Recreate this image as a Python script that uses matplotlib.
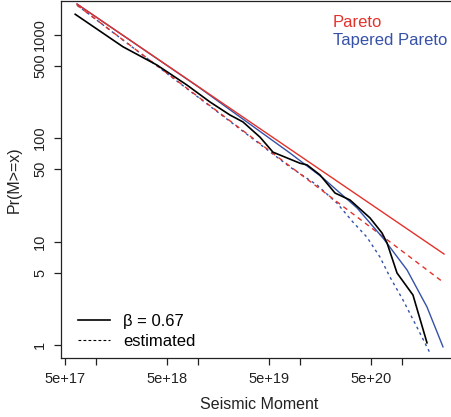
import numpy as np
import matplotlib
matplotlib.use("Agg")
import matplotlib.pyplot as plt
from matplotlib.ticker import FixedLocator, FixedFormatter, NullLocator

plt.rcParams['font.family'] = ['Liberation Sans', 'DejaVu Sans']

RED  = "#e3322b"
BLUE = "#3551a8"

# empirical survival counts (black)
obs_m = [6.3e17, 1.85e18, 3.99e18, 7.85e18, 1.32e19, 2.07e19, 2.78e19, 4.08e19,
         5.47e19, 1.01e20, 1.18e20, 1.58e20, 2.22e20, 3.11e20, 4.89e20, 6.41e20,
         7.18e20, 9.0e20, 1.29e21, 1.77e21]
obs_n = [1570, 762, 507, 325, 223, 167, 143, 102,
         73, 57, 55, 44, 29.4, 25.2, 16.9, 12.1,
         9.7, 4.96, 3.04, 1.05]

# Pareto, beta = 0.67 and estimated
par_m     = [6.56e17, 2.60e21]
par_n     = [1972, 7.57]
par_est_m = [6.56e17, 2.54e21]
par_est_n = [1925, 4.06]

# tapered Pareto, beta = 0.67
tap_m = [6.56e17, 1e19, 8.03e19, 1.69e20, 3.65e20, 6.56e20, 1.13e21, 1.77e21, 2.54e21]
tap_n = [1972, 315, 71.6, 41.1, 21.1, 10.8, 5.3, 2.33, 0.96]

# tapered Pareto, estimated
tap_est_m = [6.56e17, 1e19, 8.03e19, 1.48e20, 2.32e20, 3.33e20, 4.57e20, 6.12e20,
             7.67e20, 1.03e21, 1.41e21, 1.89e21]
tap_est_n = [1925, 250, 52.5, 35.1, 23.5, 15.4, 11.0, 7.08,
             4.54, 2.72, 1.49, 0.84]

x_ticks  = [5e17, 1e18, 5e18, 1e19, 5e19, 1e20, 5e20, 1e21]
x_labels = ["5e+17", "", "5e+18", "", "5e+19", "", "5e+20", ""]
y_ticks  = [1, 5, 10, 50, 100, 500, 1000]
y_labels = ["1", "5", "10", "50", "100", "500", "1000"]

fig = plt.figure(figsize=(4.52, 4.17), dpi=100)
ax = fig.add_axes([61 / 452, 1 - 358 / 417, 397 / 452, 357 / 417])

# draw order: estimated curves first, then the beta = 0.67 fits, data on top
ax.plot(tap_est_m, tap_est_n, color=BLUE, lw=1.0, ls=(0, (2, 2.5)))
ax.plot(par_est_m, par_est_n, color=RED, lw=1.0, ls=(0, (3.5, 3)))
ax.plot(tap_m, tap_n, color=BLUE, lw=1.0)
ax.plot(par_m, par_n, color=RED, lw=1.0)
ax.plot(obs_m, obs_n, color="black", lw=1.2, label="β = 0.67")
ax.plot([], [], color="black", lw=0.8, ls=(0, (2.5, 2)), label="estimated")

ax.set_xscale("log")
ax.set_yscale("log")
ax.set_xlim(10 ** 17.660, 10 ** 21.552)
ax.set_ylim(10 ** -0.1256, 10 ** 3.324)

ax.xaxis.set_major_locator(FixedLocator(x_ticks))
ax.xaxis.set_major_formatter(FixedFormatter(x_labels))
ax.xaxis.set_minor_locator(NullLocator())
ax.yaxis.set_major_locator(FixedLocator(y_ticks))
ax.yaxis.set_major_formatter(FixedFormatter(y_labels))
ax.yaxis.set_minor_locator(NullLocator())

ax.tick_params(length=5, width=0.9, pad=5, labelsize=10.5, colors="#222222")
for lab in ax.get_yticklabels():
    lab.set_rotation(90)
    lab.set_va("center")

for s in ax.spines.values():
    s.set_linewidth(0.9)
    s.set_color("#222222")

ax.set_xlabel("Seismic Moment", fontsize=11.5, labelpad=8, color="#222222")
ax.set_ylabel("Pr(M>=x)", fontsize=11.5, labelpad=8, color="#222222")

fig.text(333 / 452, 1 - 27 / 417, "Pareto", color=RED, fontsize=12)
fig.text(333 / 452, 1 - 45 / 417, "Tapered Pareto", color=BLUE, fontsize=12)

ax.legend(loc="lower left", frameon=False, fontsize=12, handlelength=1.9,
          handletextpad=0.8, labelspacing=0.3, borderaxespad=0.4,
          bbox_to_anchor=(0.01, -0.012))

fig.savefig("out.png", dpi=100)
